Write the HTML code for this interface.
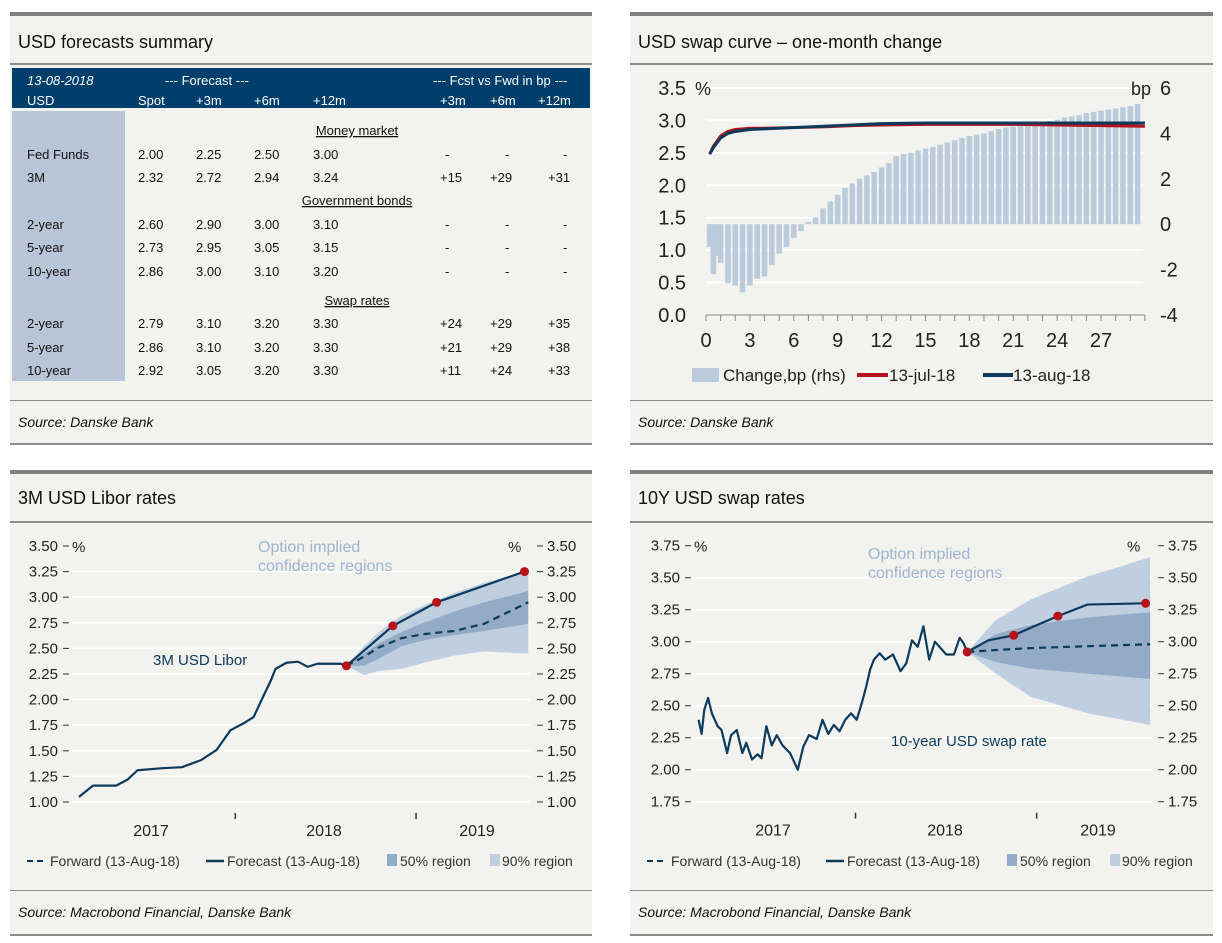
<!DOCTYPE html>
<html><head><meta charset="utf-8"><style>
body{margin:0;background:#fff;}
svg{display:block;font-family:"Liberation Sans",sans-serif;}
</style></head><body>
<svg id="root" width="1222" height="943" viewBox="0 0 1222 943" xmlns="http://www.w3.org/2000/svg">
<g>
<rect x="10" y="12" width="582" height="433" fill="#f2f2ee"/>
<rect x="10" y="12" width="582" height="4" fill="#808080"/>
<text x="18" y="48" font-size="18" fill="#111">USD forecasts summary</text>
<rect x="10" y="63" width="582" height="2" fill="#8c8c8c"/>
<rect x="12" y="68" width="578" height="40" fill="#003f6b"/>
<rect x="12" y="111" width="113" height="270" fill="#b7c5d6"/>
<g font-size="13" fill="#fff">
<text x="27" y="85" font-style="italic">13-08-2018</text>
<text x="165" y="85">--- Forecast ---</text>
<text x="433" y="85">--- Fcst vs Fwd in bp ---</text>
<text x="27" y="105">USD</text><text x="138" y="105">Spot</text><text x="196" y="105">+3m</text><text x="254" y="105">+6m</text><text x="313" y="105">+12m</text>
<text x="440" y="105">+3m</text><text x="490" y="105">+6m</text><text x="538" y="105">+12m</text>
</g>
<g font-size="13" fill="#111">
<text x="357" y="135" text-anchor="middle" text-decoration="underline">Money market</text>
<text x="357" y="205" text-anchor="middle" text-decoration="underline">Government bonds</text>
<text x="357" y="305" text-anchor="middle" text-decoration="underline">Swap rates</text>
<text x="27" y="159">Fed Funds</text><text x="138" y="159">2.00</text><text x="196" y="159">2.25</text><text x="254" y="159">2.50</text><text x="313" y="159">3.00</text><text x="445" y="159">-</text><text x="505" y="159">-</text><text x="563" y="159">-</text>
<text x="27" y="182">3M</text><text x="138" y="182">2.32</text><text x="196" y="182">2.72</text><text x="254" y="182">2.94</text><text x="313" y="182">3.24</text><text x="440" y="182">+15</text><text x="490" y="182">+29</text><text x="548" y="182">+31</text>
<text x="27" y="229">2-year</text><text x="138" y="229">2.60</text><text x="196" y="229">2.90</text><text x="254" y="229">3.00</text><text x="313" y="229">3.10</text><text x="445" y="229">-</text><text x="505" y="229">-</text><text x="563" y="229">-</text>
<text x="27" y="252">5-year</text><text x="138" y="252">2.73</text><text x="196" y="252">2.95</text><text x="254" y="252">3.05</text><text x="313" y="252">3.15</text><text x="445" y="252">-</text><text x="505" y="252">-</text><text x="563" y="252">-</text>
<text x="27" y="276">10-year</text><text x="138" y="276">2.86</text><text x="196" y="276">3.00</text><text x="254" y="276">3.10</text><text x="313" y="276">3.20</text><text x="445" y="276">-</text><text x="505" y="276">-</text><text x="563" y="276">-</text>
<text x="27" y="328">2-year</text><text x="138" y="328">2.79</text><text x="196" y="328">3.10</text><text x="254" y="328">3.20</text><text x="313" y="328">3.30</text><text x="440" y="328">+24</text><text x="490" y="328">+29</text><text x="548" y="328">+35</text>
<text x="27" y="352">5-year</text><text x="138" y="352">2.86</text><text x="196" y="352">3.10</text><text x="254" y="352">3.20</text><text x="313" y="352">3.30</text><text x="440" y="352">+21</text><text x="490" y="352">+29</text><text x="548" y="352">+38</text>
<text x="27" y="375">10-year</text><text x="138" y="375">2.92</text><text x="196" y="375">3.05</text><text x="254" y="375">3.20</text><text x="313" y="375">3.30</text><text x="440" y="375">+11</text><text x="490" y="375">+24</text><text x="548" y="375">+33</text>
</g>
<rect x="10" y="400" width="582" height="1" fill="#8c8c8c"/>
<text x="18" y="427" font-size="14" font-style="italic" fill="#111">Source: Danske Bank</text>
<rect x="10" y="443" width="582" height="2" fill="#8c8c8c"/>
</g>

<g>
<rect x="630" y="12" width="583" height="433" fill="#f2f2ee"/>
<rect x="630" y="12" width="583" height="4" fill="#808080"/>
<text x="638" y="48" font-size="18" fill="#111">USD swap curve – one-month change</text>
<rect x="630" y="63" width="583" height="2" fill="#8c8c8c"/>
<rect x="630" y="400" width="583" height="1" fill="#8c8c8c"/>
<text x="638" y="427" font-size="14" font-style="italic" fill="#111">Source: Danske Bank</text>
<rect x="630" y="443" width="583" height="2" fill="#8c8c8c"/>
</g>

<g>
<rect x="10" y="470" width="582" height="466" fill="#f2f2ee"/>
<rect x="10" y="470" width="582" height="4" fill="#808080"/>
<text x="18" y="504" font-size="18" fill="#111">3M USD Libor rates</text>
<rect x="10" y="521" width="582" height="2" fill="#8c8c8c"/>
<rect x="10" y="890" width="582" height="1" fill="#8c8c8c"/>
<text x="18" y="917" font-size="14" font-style="italic" fill="#111">Source: Macrobond Financial, Danske Bank</text>
<rect x="10" y="934" width="582" height="2" fill="#8c8c8c"/>
</g>

<g>
<rect x="630" y="470" width="583" height="466" fill="#f2f2ee"/>
<rect x="630" y="470" width="583" height="4" fill="#808080"/>
<text x="638" y="504" font-size="18" fill="#111">10Y USD swap rates</text>
<rect x="630" y="521" width="583" height="2" fill="#8c8c8c"/>
<rect x="630" y="890" width="583" height="1" fill="#8c8c8c"/>
<text x="638" y="917" font-size="14" font-style="italic" fill="#111">Source: Macrobond Financial, Danske Bank</text>
<rect x="630" y="934" width="583" height="2" fill="#8c8c8c"/>
</g>
</svg>
<script>
// ---- swap curve data ----
const curveMaturities=[0.25,0.5,0.75,1,1.5,2,2.5,3,3.5,4,4.5,5,5.5,6,6.5,7,7.5,8,8.5,9,9.5,10,10.5,11,11.5,12,12.5,13,13.5,14,14.5,15,15.5,16,16.5,17,17.5,18,18.5,19,19.5,20,20.5,21,21.5,22,22.5,23,23.5,24,24.5,25,25.5,26,26.5,27,27.5,28,28.5,29,29.5];
const curveChangeBp=[-1.0,-2.2,-1.4,-1.7,-2.6,-2.7,-3.0,-2.7,-2.4,-2.3,-1.8,-1.3,-1.0,-0.6,-0.3,0.1,0.3,0.7,1.0,1.3,1.6,1.8,2.0,2.15,2.3,2.5,2.7,3.0,3.1,3.15,3.25,3.33,3.4,3.5,3.6,3.7,3.8,3.88,3.95,4.0,4.1,4.2,4.25,4.3,4.35,4.4,4.45,4.5,4.55,4.6,4.7,4.75,4.8,4.9,4.95,5.0,5.05,5.1,5.15,5.2,5.3];
const curveLineMat=[0.25,0.5,1,1.5,2,3,4,6,8,10,12,15,18,21,24,27,30];
const curveJul=[2.48,2.6,2.76,2.83,2.86,2.88,2.88,2.89,2.9,2.92,2.93,2.94,2.94,2.94,2.93,2.92,2.91];
const curveAug=[2.48,2.58,2.73,2.8,2.83,2.86,2.87,2.89,2.91,2.93,2.95,2.96,2.96,2.96,2.96,2.96,2.96];
const curveLeftTicks=["0.0","0.5","1.0","1.5","2.0","2.5","3.0","3.5"];
const curveRightTicks=["-4","-2","0","2","4","6"];
const curveXTicks=[0,3,6,9,12,15,18,21,24,27];
// ---- libor data ----
const liborMonths=[0,0.93,2.48,3.25,3.9,5.57,6.86,8.15,9.18,10.09,10.99,11.64,12.28,12.8,13.1,13.83,14.6,15.25,15.89,17.44,17.83];
const liborVals=[1.05,1.16,1.16,1.22,1.31,1.33,1.34,1.41,1.51,1.70,1.77,1.83,2.03,2.19,2.30,2.36,2.37,2.32,2.35,2.35,2.33];
const liborFcstMonths=[17.83,20.92,23.84,29.7];
const liborFcstVals=[2.33,2.72,2.95,3.25];
const liborBandMonths=[17.83,19,20,21.5,23,25,27,29.95];
const liborFwd=[2.33,2.42,2.51,2.60,2.64,2.67,2.74,2.95];
const libor90Up=[2.33,2.52,2.66,2.82,2.92,3.04,3.14,3.26];
const libor90Lo=[2.33,2.24,2.28,2.30,2.36,2.43,2.47,2.45];
const libor50Up=[2.33,2.45,2.55,2.66,2.75,2.86,2.95,3.06];
const libor50Lo=[2.33,2.33,2.40,2.52,2.58,2.63,2.67,2.74];
const liborTicks=["1.00","1.25","1.50","1.75","2.00","2.25","2.50","2.75","3.00","3.25","3.50"];
// ---- 10y swap data ----
const swapMonths=[0,0.2,0.38,0.63,0.88,1.26,1.52,1.89,2.15,2.53,2.9,3.16,3.54,3.91,4.17,4.49,4.85,5.18,5.56,6.06,6.57,6.94,7.32,7.83,8.21,8.59,8.96,9.34,9.72,10.1,10.48,10.86,11.11,11.36,11.62,12.0,12.37,12.88,13.38,13.76,14.14,14.52,14.9,15.28,15.66,16.04,16.41,16.92,17.3,17.55,17.8];
const swapVals=[2.39,2.28,2.47,2.56,2.44,2.34,2.31,2.13,2.27,2.31,2.13,2.21,2.08,2.12,2.09,2.34,2.19,2.27,2.19,2.13,2.0,2.18,2.27,2.24,2.39,2.28,2.35,2.30,2.39,2.44,2.39,2.54,2.65,2.78,2.86,2.91,2.86,2.90,2.77,2.83,3.01,2.96,3.12,2.86,3.00,2.95,2.90,2.90,3.03,2.99,2.92];
const swapFcstMonths=[17.8,19.19,20.88,22.22,23.81,25.76,29.62];
const swapFcstVals=[2.92,3.01,3.05,3.12,3.20,3.29,3.30];
const swapDotMonths=[17.8,20.88,23.81,29.62];
const swapDotVals=[2.92,3.05,3.20,3.30];
const swapBandMonths=[17.8,19.7,22,25.8,29.92];
const swapFwd=[2.92,2.935,2.95,2.965,2.98];
const swap90Up=[2.92,3.17,3.33,3.51,3.66];
const swap90Lo=[2.92,2.75,2.57,2.44,2.35];
const swap50Up=[2.92,3.06,3.13,3.19,3.23];
const swap50Lo=[2.92,2.84,2.79,2.75,2.71];
const swapTicks=["1.75","2.00","2.25","2.50","2.75","3.00","3.25","3.50","3.75"];

const NS="http://www.w3.org/2000/svg";
const svg=document.getElementById('root');
function mk(tag,a,txt){const e=document.createElementNS(NS,tag);for(const k in a)e.setAttribute(k,a[k]);if(txt!==undefined)e.textContent=txt;svg.appendChild(e);return e;}
const NAVY="#0b3a5c",RED="#b5121b",B90="#c0cfe0",B50="#93abc6";

// ===== swap curve chart =====
(function(){
 const x=m=>706+m*14.63, yl=v=>315-v/3.5*227, yr=v=>315-(v+4)/10*227;
 curveLeftTicks.forEach(t=>{const v=+t;
  if(v>0){const g=mk('line',{x1:706,x2:1143,y1:yl(v),y2:yl(v),stroke:'#fff','stroke-width':2});
  
  }
  const e=mk('text',{x:686,y:yl(v)+7,'font-size':20,'text-anchor':'end',fill:'#222'},t);
  
  });
 let e=mk('text',{x:695,y:95,'font-size':18,fill:'#222'},'%');
 
 
 curveRightTicks.forEach(t=>{const e=mk('text',{x:1160,y:yr(+t)+7,'font-size':20,fill:'#222'},t);
  
  });
 e=mk('text',{x:1131,y:95,'font-size':18,fill:'#222'},'bp');
 
 
 curveMaturities.forEach((m,i)=>{const v=curveChangeBp[i];const y0=yr(0),y1=yr(v);
  const b=mk('rect',{x:x(m)-2.8,width:5.6,y:Math.min(y0,y1),height:Math.abs(y1-y0),fill:'#bccbdc'});
  
  });
 e=mk('line',{x1:706,x2:1145,y1:315,y2:315,stroke:'#888','stroke-width':1});
 
 
 for(let m=0;m<=30;m++){const t=mk('line',{x1:x(m),x2:x(m),y1:315,y2:321,stroke:'#888'});
  
  }
 curveXTicks.forEach(m=>{const t=mk('text',{x:x(m),y:347,'font-size':20,'text-anchor':'middle',fill:'#222'},m);
  
  });
 const p1=mk('polyline',{points:curveLineMat.map((m,i)=>x(m)+','+yl(curveJul[i])).join(' '),fill:'none',stroke:RED,'stroke-width':3});
 
 
 const p2=mk('polyline',{points:curveLineMat.map((m,i)=>x(m)+','+yl(curveAug[i])).join(' '),fill:'none',stroke:NAVY,'stroke-width':3});
 
 
 e=mk('rect',{x:692,y:368,width:27,height:14,fill:'#bccbdc'});
 
 
 e=mk('text',{x:723,y:381,'font-size':17,fill:'#222'},'Change,bp (rhs)');
 
 
 e=mk('line',{x1:857,x2:888,y1:375,y2:375,stroke:RED,'stroke-width':4});
 
 
 e=mk('text',{x:889,y:381,'font-size':17,fill:'#222'},'13-jul-18');
 
 
 e=mk('line',{x1:983,x2:1013,y1:375,y2:375,stroke:NAVY,'stroke-width':4});
 
 
 e=mk('text',{x:1013,y:381,'font-size':17,fill:'#222'},'13-aug-18');
 
 
})();

// ===== generic fan chart =====
function fan(o){
 const x=m=>o.x0+m*o.pxm, y=v=>o.yTop+(o.vTop-v)/(o.vTop-o.vBot)*(o.yBot-o.yTop);
 o.ticks.forEach(t=>{const v=+t;
  if(v<o.vTop){const g=mk('line',{x1:o.gx1,x2:o.gx2,y1:y(v),y2:y(v),stroke:'#fff','stroke-width':1.5});
  
  }
  let e=mk('text',{x:o.lx,y:y(v)+5,'font-size':15,'text-anchor':'end',fill:'#222'},t);
  
  
  e=mk('line',{x1:o.lx+5,x2:o.lx+11,y1:y(v),y2:y(v),stroke:'#333'});
  
  
  e=mk('line',{x1:o.rx,x2:o.rx+6,y1:y(v),y2:y(v),stroke:'#333'});
  
  
  e=mk('text',{x:o.rx+10,y:y(v)+5,'font-size':15,fill:'#222'},t);
  
  });
 let e=mk('text',{x:o.lx+14,y:y(o.vTop)+6,'font-size':15,fill:'#222'},'%');
 
 
 e=mk('text',{x:o.pctx,y:y(o.vTop)+6,'font-size':15,fill:'#222'},'%');
 
 
 const bm=o.bandM;
 const area=(up,lo)=>bm.map((m,i)=>x(m)+','+y(up[i])).concat(bm.slice().reverse().map((m,j)=>x(m)+','+y(lo[bm.length-1-j]))).join(' ');
 e=mk('polygon',{points:area(o.u90,o.l90),fill:B90});
 
 
 e=mk('polygon',{points:area(o.u50,o.l50),fill:B50});
 
 
 e=mk('polyline',{points:o.hm.map((m,i)=>x(m)+','+y(o.hv[i])).join(' '),fill:'none',stroke:NAVY,'stroke-width':2.2,'stroke-linejoin':'round'});
 
 
 e=mk('polyline',{points:bm.map((m,i)=>x(m)+','+y(o.fwd[i])).join(' '),fill:'none',stroke:NAVY,'stroke-width':2.2,'stroke-dasharray':'7,5'});
 
 
 e=mk('polyline',{points:o.fm.map((m,i)=>x(m)+','+y(o.fv[i])).join(' '),fill:'none',stroke:NAVY,'stroke-width':2.2});
 
 
 o.dm.forEach((m,i)=>{const c=mk('circle',{cx:x(m),cy:y(o.dv[i]),r:4.5,fill:RED});
  
  });
 o.tickM.forEach(m=>{const t=mk('line',{x1:x(m),x2:x(m),y1:o.yBot+11,y2:o.yBot+17,stroke:'#333','stroke-width':1.5});
  
  });
 o.years.forEach((yr,i)=>{const t=mk('text',{x:o.yearX[i],y:o.yBot+34,'font-size':16,'text-anchor':'middle',fill:'#222'},yr);
  
  });
 const a=o.ann;
 e=mk('text',{x:a.ox,y:a.oy,'font-size':16,fill:'#9fb4cf'},'Option implied');
 
 
 e=mk('text',{x:a.ox,y:a.oy+19,'font-size':16,fill:'#9fb4cf'},'confidence regions');
 
 
 e=mk('text',{x:a.sx,y:a.sy,'font-size':15,fill:NAVY},a.s);
 
 
 const L=o.leg,ly=L.y;
 e=mk('line',{x1:L.x,x2:L.x+18,y1:ly-5,y2:ly-5,stroke:NAVY,'stroke-width':2,'stroke-dasharray':'6,4'});
 
 
 e=mk('text',{x:L.fx,y:ly,'font-size':14,fill:'#333'},'Forward (13-Aug-18)');
 
 
 e=mk('line',{x1:L.lx1,x2:L.lx1+18,y1:ly-5,y2:ly-5,stroke:NAVY,'stroke-width':2.5});
 
 
 e=mk('text',{x:L.lx1+21,y:ly,'font-size':14,fill:'#333'},'Forecast (13-Aug-18)');
 
 
 e=mk('rect',{x:L.s50,y:ly-12,width:10,height:12,fill:B50});
 
 
 e=mk('text',{x:L.s50+13,y:ly,'font-size':14,fill:'#333'},'50% region');
 
 
 e=mk('rect',{x:L.s90,y:ly-12,width:10,height:12,fill:B90});
 
 
 e=mk('text',{x:L.s90+12,y:ly,'font-size':14,fill:'#333'},'90% region');
 
 
}
fan({x0:79,pxm:15.0,gx1:72,gx2:530,yTop:546,yBot:802,vTop:3.5,vBot:1.0,ticks:liborTicks,lx:58,rx:537,pctx:508,
 hm:liborMonths,hv:liborVals,fm:liborFcstMonths,fv:liborFcstVals,dm:liborFcstMonths,dv:liborFcstVals,
 bandM:liborBandMonths,fwd:liborFwd,u90:libor90Up,l90:libor90Lo,u50:libor50Up,l50:libor50Lo,
 tickM:[10.42,22.47],years:["2017","2018","2019"],yearX:[151,324,477],
 ann:{ox:258,oy:552,sx:153,sy:665,s:"3M USD Libor"},leg:{x:27,fx:50,lx1:206,s50:387,s90:490,y:866}});
fan({x0:698.6,pxm:15.09,gx1:692,gx2:1152,yTop:545.7,yBot:801.7,vTop:3.75,vBot:1.75,ticks:swapTicks,lx:680,rx:1158,pctx:1127,
 hm:swapMonths,hv:swapVals,fm:swapFcstMonths,fv:swapFcstVals,dm:swapDotMonths,dv:swapDotVals,
 bandM:swapBandMonths,fwd:swapFwd,u90:swap90Up,l90:swap90Lo,u50:swap50Up,l50:swap50Lo,
 tickM:[10.4,22.4],years:["2017","2018","2019"],yearX:[773,945,1098],
 ann:{ox:868,oy:559,sx:891,sy:746,s:"10-year USD swap rate"},leg:{x:647,fx:671,lx1:826,s50:1007,s90:1110,y:866}});
</script>
</body></html>
